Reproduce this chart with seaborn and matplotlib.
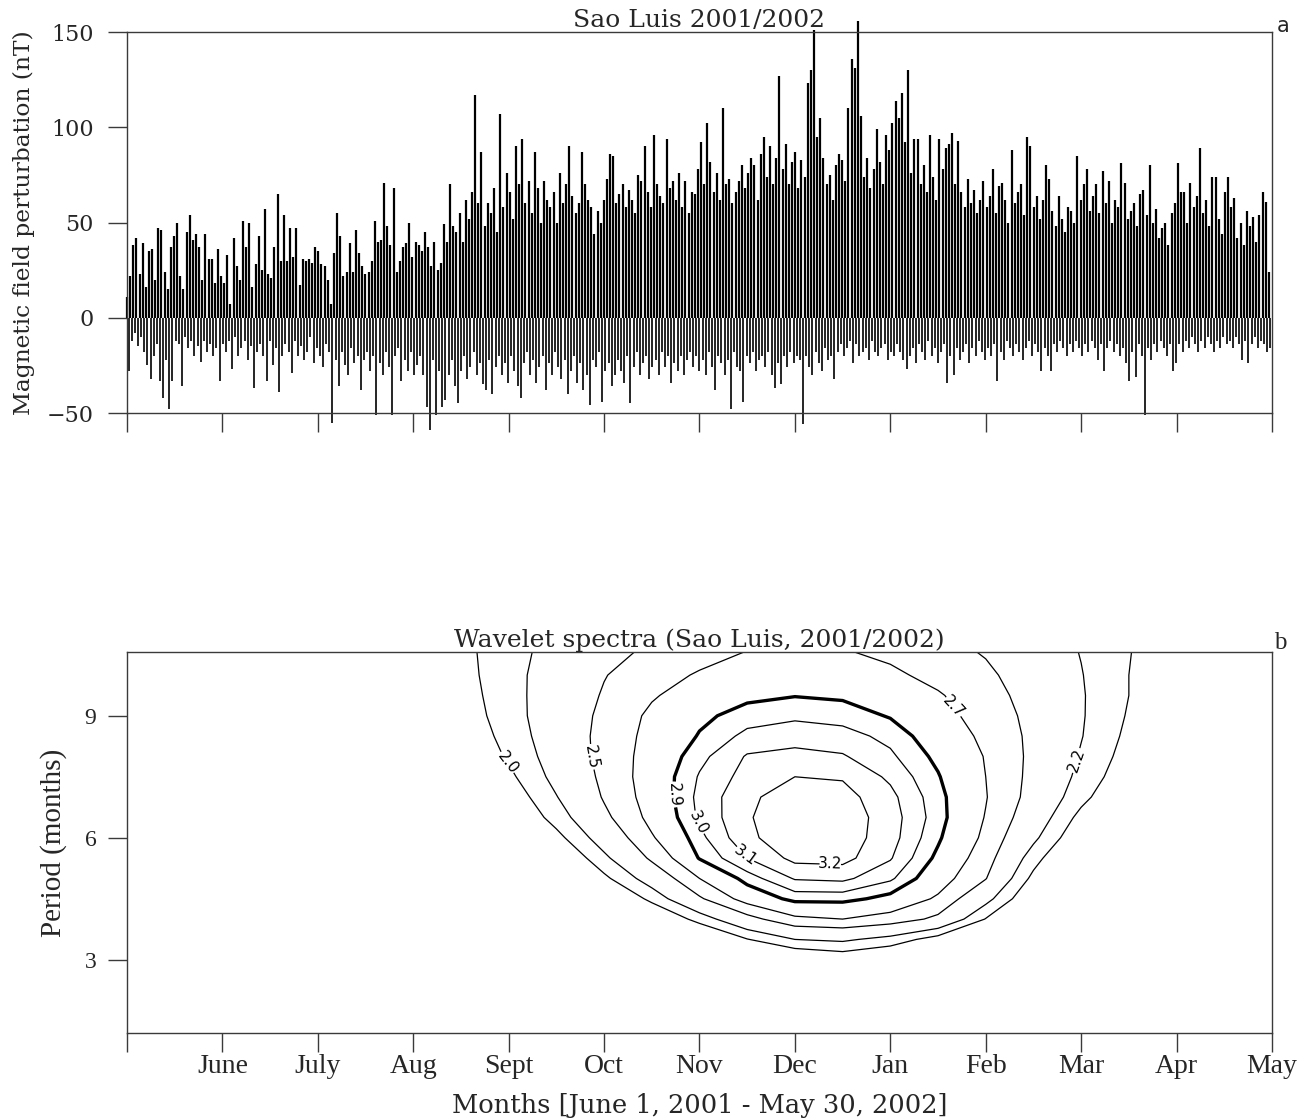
import numpy as np
import matplotlib
matplotlib.use("Agg")
import matplotlib.pyplot as plt
import seaborn as sns

# daily extremes of the H perturbation (nT), one value per day, June 1 2001 -> May 30 2002
max_jun = [11, 22, 38, 42, 23, 39, 16, 35, 36, 20, 47, 46, 24, 15, 37, 43, 50, 22, 15, 45,
           54, 41, 44, 37, 20, 44, 31, 31, 18, 36]
max_jul = [22, 18, 33, 7, 42, 27, 20, 51, 37, 50, 16, 28, 43, 25, 57, 23, 21, 37, 65, 30,
           54, 30, 47, 32, 47, 17, 31, 30, 31, 29, 37]
max_aug = [35, 28, 27, 20, 7, 34, 55, 43, 22, 24, 39, 24, 46, 34, 27, 23, 24, 30, 51, 40,
           41, 71, 48, 38, 68, 24, 30, 37, 39, 50, 32]
max_sep = [40, 38, 35, 45, 37, 27, 40, 25, 29, 49, 40, 70, 48, 45, 55, 40, 62, 52, 66, 117,
           60, 87, 48, 60, 55, 68, 45, 107, 58, 76]
max_oct = [66, 52, 90, 70, 94, 60, 72, 55, 87, 68, 50, 72, 62, 58, 66, 50, 76, 60, 70, 90,
           64, 55, 60, 87, 70, 62, 58, 44, 56, 50, 62]
max_nov = [73, 86, 85, 60, 65, 70, 58, 67, 62, 55, 75, 72, 90, 66, 58, 96, 70, 64, 60, 94,
           68, 72, 62, 76, 58, 72, 55, 66, 65, 78]
max_dec = [92, 70, 102, 82, 66, 76, 62, 110, 70, 73, 60, 66, 72, 80, 68, 76, 84, 80, 62, 86,
           95, 74, 90, 70, 84, 127, 78, 91, 70, 82, 87]
max_jan = [68, 83, 74, 123, 130, 151, 95, 105, 84, 70, 75, 62, 80, 86, 83, 72, 110, 136, 131, 156,
           106, 74, 84, 68, 78, 99, 82, 70, 96, 88, 102]
max_feb = [114, 105, 118, 92, 130, 76, 94, 94, 70, 80, 66, 96, 74, 62, 94, 78, 89, 91, 97, 70,
           93, 66, 58, 73, 60, 67, 55, 62]
max_mar = [72, 58, 64, 78, 55, 69, 71, 62, 50, 88, 60, 66, 70, 54, 95, 90, 58, 64, 52, 62,
           80, 73, 56, 48, 64, 52, 45, 58, 56, 50, 85]
max_apr = [62, 70, 78, 56, 64, 70, 55, 77, 60, 72, 50, 62, 58, 81, 71, 52, 56, 60, 48, 65,
           67, 54, 80, 50, 57, 42, 47, 50, 38, 55]
max_may = [60, 81, 66, 66, 50, 71, 58, 64, 89, 55, 62, 48, 74, 74, 52, 44, 66, 74, 58, 63,
           42, 50, 38, 56, 48, 53, 40, 54, 66, 61, 24]

min_jun = [-28, -12, -8, -15, -10, -18, -25, -32, -20, -14, -33, -42, -22, -48, -33, -12, -14, -36, -10, -16,
           -12, -20, -15, -23, -12, -18, -14, -20, -16, -33]
min_jul = [-14, -18, -12, -27, -10, -20, -16, -12, -22, -15, -37, -18, -14, -20, -33, -12, -25, -16, -39, -20,
           -14, -18, -29, -12, -20, -15, -22, -18, -10, -24, -16]
min_aug = [-20, -26, -14, -18, -55, -22, -36, -18, -25, -30, -16, -24, -20, -38, -22, -18, -28, -20, -51, -24,
           -30, -18, -26, -51, -20, -16, -33, -22, -28, -18, -30]
min_sep = [-25, -20, -30, -47, -59, -22, -51, -28, -47, -43, -30, -22, -36, -45, -28, -20, -32, -26, -18, -30,
           -24, -35, -38, -22, -40, -26, -20, -30, -24, -34]
min_oct = [-20, -28, -36, -42, -24, -18, -30, -22, -34, -26, -20, -38, -24, -30, -18, -26, -32, -22, -40, -28,
           -20, -34, -24, -38, -30, -46, -22, -26, -18, -44, -28]
min_nov = [-24, -36, -30, -22, -28, -34, -20, -45, -26, -18, -30, -24, -20, -32, -26, -22, -30, -18, -26, -20,
           -34, -24, -28, -20, -30, -22, -18, -26, -20, -28]
min_dec = [-22, -30, -18, -26, -38, -20, -24, -30, -22, -48, -18, -26, -28, -44, -20, -24, -18, -28, -22, -20,
           -26, -18, -30, -37, -24, -35, -20, -26, -18, -24, -20]
min_jan = [-22, -56, -20, -26, -30, -18, -24, -28, -16, -22, -20, -32, -18, -14, -20, -16, -12, -24, -14, -20,
           -18, -16, -22, -12, -18, -20, -16, -14, -22, -18, -20]
min_feb = [-14, -18, -22, -27, -20, -16, -24, -14, -18, -22, -12, -20, -16, -24, -18, -14, -34, -20, -30, -16,
           -22, -18, -14, -24, -16, -20, -12, -18]
min_mar = [-22, -16, -20, -14, -33, -18, -22, -12, -16, -20, -14, -18, -22, -16, -12, -20, -14, -18, -28, -16,
           -20, -28, -14, -18, -12, -16, -20, -14, -18, -12, -16]
min_apr = [-20, -14, -18, -12, -16, -22, -14, -28, -16, -12, -18, -14, -20, -16, -24, -33, -18, -31, -14, -20,
           -51, -16, -22, -14, -18, -12, -16, -20, -14, -28]
min_may = [-24, -14, -18, -12, -16, -10, -14, -18, -12, -16, -10, -14, -18, -12, -16, -10, -14, -12, -16, -10,
           -14, -22, -12, -24, -14, -10, -16, -12, -14, -18, -16]

month_labels = ["June", "July", "Aug", "Sept", "Oct", "Nov", "Dec",
                "Jan", "Feb", "Mar", "Apr", "May"]
field_ticks = [-50, 0, 50, 100, 150]
period_ticks = [3, 6, 9]

# wavelet power (log scale): months since June 1 x period (months)
grid_months = [3.0, 3.5, 4.0, 4.5, 5.0, 5.5, 6.0, 6.5, 7.0, 7.5, 8.0, 8.5, 9.0, 9.5, 10.0, 10.5, 11.0]
grid_periods = [3.0, 3.5, 4.0, 4.5, 5.0, 5.5, 6.0, 6.5, 7.0, 7.5, 8.0, 8.5, 9.0, 9.5, 10.0, 10.6]
power = [
    [0.20, 0.30, 0.45, 0.60, 0.80, 1.00, 1.25, 1.50, 1.75, 1.84, 1.75, 1.55, 1.30, 1.05, 0.80, 0.60, 0.40],
    [0.30, 0.45, 0.65, 0.85, 1.10, 1.35, 1.70, 1.99, 2.20, 2.24, 2.12, 1.90, 1.55, 1.25, 1.00, 0.75, 0.50],
    [0.45, 0.65, 0.90, 1.15, 1.40, 1.75, 2.08, 2.42, 2.66, 2.70, 2.62, 2.45, 1.99, 1.60, 1.25, 0.95, 0.65],
    [0.60, 0.85, 1.10, 1.35, 1.69, 2.06, 2.47, 2.79, 2.94, 2.94, 2.86, 2.67, 2.28, 1.78, 1.35, 1.00, 0.70],
    [0.76, 0.98, 1.25, 1.57, 1.95, 2.32, 2.70, 2.95, 3.11, 3.125, 3.02, 2.80, 2.51, 1.94, 1.50, 1.10, 0.75],
    [0.83, 1.03, 1.36, 1.74, 2.15, 2.54, 2.91, 3.10, 3.23, 3.235, 3.11, 2.87, 2.60, 2.09, 1.64, 1.20, 0.80],
    [1.05, 1.24, 1.56, 1.93, 2.32, 2.68, 2.97, 3.18, 3.26, 3.255, 3.145, 2.92, 2.66, 2.25, 1.81, 1.38, 1.00],
    [1.24, 1.45, 1.74, 2.09, 2.45, 2.76, 3.02, 3.19, 3.27, 3.26, 3.15, 2.95, 2.69, 2.36, 1.93, 1.55, 1.20],
    [1.33, 1.55, 1.85, 2.19, 2.52, 2.79, 3.03, 3.18, 3.25, 3.24, 3.13, 2.94, 2.71, 2.42, 2.07, 1.74, 1.45],
    [1.41, 1.64, 1.95, 2.27, 2.55, 2.80, 3.01, 3.14, 3.20, 3.19, 3.08, 2.91, 2.70, 2.44, 2.14, 1.85, 1.58],
    [1.55, 1.77, 2.03, 2.31, 2.57, 2.78, 2.97, 3.11, 3.13, 3.11, 3.02, 2.87, 2.69, 2.45, 2.18, 1.91, 1.66],
    [1.62, 1.82, 2.08, 2.33, 2.57, 2.76, 2.91, 3.03, 3.06, 3.04, 2.97, 2.82, 2.66, 2.45, 2.21, 1.95, 1.72],
    [1.69, 1.87, 2.11, 2.34, 2.55, 2.74, 2.87, 2.95, 2.98, 2.96, 2.89, 2.77, 2.62, 2.44, 2.22, 1.98, 1.77],
    [1.72, 1.90, 2.12, 2.33, 2.52, 2.68, 2.80, 2.87, 2.895, 2.88, 2.82, 2.72, 2.58, 2.42, 2.22, 2.00, 1.81],
    [1.77, 1.92, 2.13, 2.31, 2.49, 2.62, 2.72, 2.78, 2.80, 2.79, 2.74, 2.64, 2.54, 2.39, 2.21, 2.00, 1.83],
    [1.78, 1.94, 2.12, 2.28, 2.42, 2.54, 2.62, 2.70, 2.725, 2.71, 2.65, 2.57, 2.48, 2.34, 2.19, 2.01, 1.84],
]
levels = [2.0, 2.2, 2.5, 2.7, 2.9, 3.0, 3.1, 3.2]
label_spots = [(3.98, 7.84), (9.93, 7.92), (4.87, 7.99), (8.68, 9.27),
               (5.74, 7.06), (6.0, 6.39), (6.48, 5.58), (7.37, 5.26)]

daily_max = np.concatenate([max_jun, max_jul, max_aug, max_sep, max_oct, max_nov,
                            max_dec, max_jan, max_feb, max_mar, max_apr, max_may])
daily_min = np.concatenate([min_jun, min_jul, min_aug, min_sep, min_oct, min_nov,
                            min_dec, min_jan, min_feb, min_mar, min_apr, min_may])
days = np.arange(len(daily_max))

sns.set_theme(style="ticks")
plt.rcParams['font.family'] = ['DejaVu Serif', 'DejaVu Sans']
plt.rcParams['axes.unicode_minus'] = True
serif2 = 'Liberation Serif'
spine_c = '#3a3a3a'

fig = plt.figure(figsize=(13.01, 11.19), dpi=100)
ax1 = fig.add_axes([0.0976, 0.6309, 0.8801, 0.3405])
ax2 = fig.add_axes([0.0976, 0.0769, 0.8801, 0.3405])

# --- panel a: daytime maxima and night-time minima of each day
ax1.vlines(days, 0, daily_max, color='black', lw=1.6, clip_on=False)
ax1.vlines(days + 0.5, daily_min, 0, color='black', lw=1.2, clip_on=False)
ax1.set_xlim(0, 365)
ax1.set_ylim(-50, 150)
ax1.set_xticks(np.linspace(0, 365, 13))
ax1.set_xticklabels([])
ax1.set_yticks(field_ticks)
ax1.tick_params(axis='both', direction='out', length=14, width=1, color=spine_c, labelsize=16)
ax1.tick_params(axis='y', pad=10)
ax1.set_title("Sao Luis 2001/2002", fontsize=18, pad=0)
ax1.set_ylabel("Magnetic field perturbation (nT)", fontsize=16.8)
ax1.yaxis.set_label_coords(-0.080, 0.5)
ax1.text(1.004, 0.99, "a", transform=ax1.transAxes, ha='left', va='bottom',
         fontsize=15, family='DejaVu Sans')

# --- panel b: wavelet spectrum contours
widths = [2.4 if lv == 2.9 else 0.9 for lv in levels]
cs = ax2.contour(grid_months, grid_periods, power, levels=levels, colors='black', linewidths=widths)
lbls = ax2.clabel(cs, levels, inline=True, fmt='%.1f', fontsize=11, manual=label_spots, inline_spacing=4)
for t in lbls:
    t.set_family('DejaVu Sans')
ax2.set_xlim(0, 12)
ax2.set_ylim(1.2, 10.57)
ax2.set_xticks(range(13))
ax2.set_xticklabels([""] + month_labels, family=serif2, fontsize=20)
ax2.set_yticks(period_ticks)
ax2.set_yticklabels([str(p) for p in period_ticks], family=serif2, fontsize=17)
ax2.tick_params(axis='both', direction='out', length=14, width=1, color=spine_c)
ax2.tick_params(axis='x', pad=1)
ax2.tick_params(axis='y', pad=8)
ax2.set_title("Wavelet spectra (Sao Luis, 2001/2002)", fontsize=18, pad=0)
ax2.set_ylabel("Period (months)", family=serif2, fontsize=21)
ax2.yaxis.set_label_coords(-0.0524, 0.5)
ax2.set_xlabel("Months [June 1, 2001 - May 30, 2002]", fontsize=18.5)
ax2.xaxis.set_label_coords(0.5, -0.157)
ax2.text(1.002, 0.995, "b", transform=ax2.transAxes, ha='left', va='bottom',
         fontsize=18, family=serif2)

for ax in (ax1, ax2):
    for s in ax.spines.values():
        s.set_color(spine_c)
        s.set_linewidth(1.0)
    ax.set_facecolor('white')

fig.savefig("out.png", dpi=100, facecolor='white')
